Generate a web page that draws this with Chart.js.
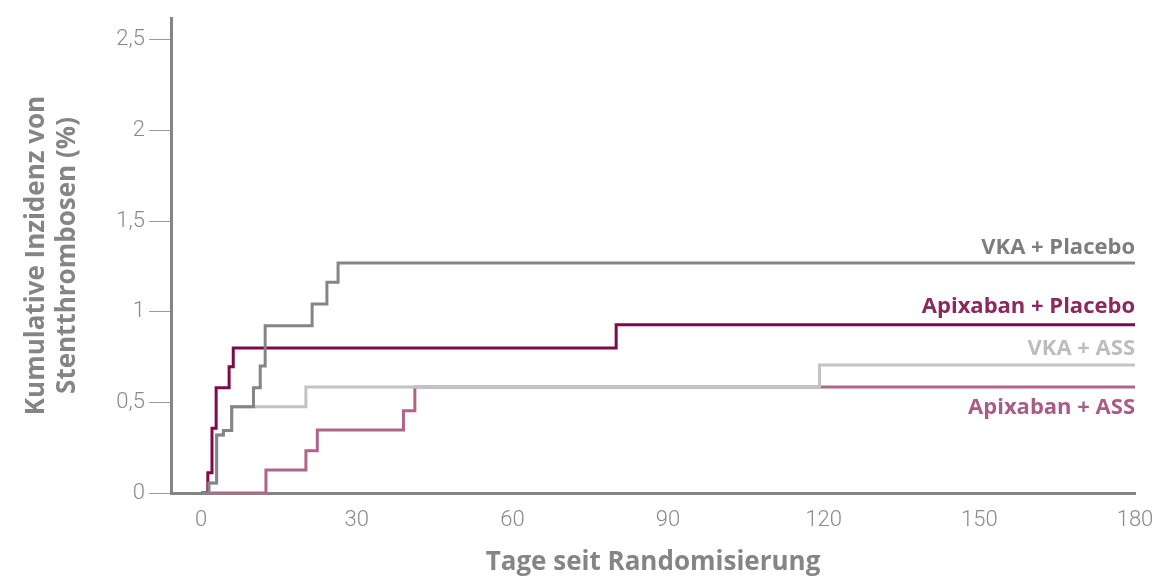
<!DOCTYPE html>
<html lang="de">
<head>
    <meta charset="UTF-8">
    <title>Stentthrombosen</title>
    <script src="https://cdn.jsdelivr.net/npm/chart.js"></script>
    <style>
        body {
            margin: 0;
            padding: 0;
            background-color: #ffffff;
        }
        .wrap {
            position: relative;
            width: 1155px;
            height: 578px;
        }
    </style>
</head>
<body>
    <div class="wrap">
        <canvas id="kmChart"></canvas>
    </div>

    <script>
        // Tick labels
        const xTicks = [0, 30, 60, 90, 120, 150, 180];
        const yTicks = [0, 0.5, 1, 1.5, 2, 2.5];

        // Series names (drawn at the right end of each curve)
        const seriesNames = ['VKA + Placebo', 'Apixaban + Placebo', 'VKA + ASS', 'Apixaban + ASS'];

        // Event times (days) and cumulative incidence (%)
        const vkaPlaceboDays = [0, 1.5, 3.0, 4.3, 5.9, 10.1, 11.4, 12.35, 21.4, 24.25, 26.4, 180];
        const vkaPlaceboVals = [0, 0.055, 0.32, 0.345, 0.476, 0.581, 0.70, 0.923, 1.043, 1.163, 1.268, 1.268];

        const apixPlaceboDays = [0, 1.3, 2.1, 2.9, 5.4, 6.2, 80, 180];
        const apixPlaceboVals = [0, 0.112, 0.357, 0.58, 0.697, 0.80, 0.928, 0.928];

        const vkaAssDays = [0, 1.5, 3.0, 4.3, 5.9, 20.2, 119.2, 180];
        const vkaAssVals = [0, 0.055, 0.32, 0.345, 0.476, 0.585, 0.706, 0.706];

        const apixAssDays = [0, 12.5, 20.2, 22.4, 39.0, 41.2, 180];
        const apixAssVals = [0, 0.127, 0.233, 0.348, 0.454, 0.585, 0.585];

        const colors = ['#858585', '#7e0a4c', '#c3c3c3', '#b0648c'];
        const labelColors = ['#7d7d7d', '#8c2860', '#bdbdbd', '#a95d86'];

        function toPoints(days, vals) {
            return days.map((d, i) => ({ x: d, y: vals[i] }));
        }

        // Right-side curve labels, placed relative to the final value of each curve
        const endLabels = {
            id: 'endLabels',
            afterDatasetsDraw(chart) {
                const ctx = chart.ctx;
                const y = chart.scales.y;
                const right = chart.chartArea.right;
                const offsets = [-15, -18, -16, 21]; // above / below the line
                ctx.save();
                ctx.font = '700 22px "Open Sans", sans-serif';
                ctx.textAlign = 'right';
                ctx.textBaseline = 'middle';
                chart.data.datasets.forEach((ds, i) => {
                    const last = ds.data[ds.data.length - 1].y;
                    ctx.fillStyle = labelColors[i];
                    ctx.fillText(seriesNames[i], right, y.getPixelForValue(last) + offsets[i]);
                });
                ctx.restore();
            }
        };

        const tickFont = { family: 'Roboto', size: 22, weight: '300' };
        const titleFont = { family: '"Open Sans"', size: 26, weight: '700' };

        new Chart(document.getElementById('kmChart'), {
            type: 'line',
            data: {
                datasets: [
                    { label: seriesNames[0], data: toPoints(vkaPlaceboDays, vkaPlaceboVals), borderColor: colors[0], order: 1 },
                    { label: seriesNames[1], data: toPoints(apixPlaceboDays, apixPlaceboVals), borderColor: colors[1], order: 2 },
                    { label: seriesNames[2], data: toPoints(vkaAssDays, vkaAssVals), borderColor: colors[2], order: 3 },
                    { label: seriesNames[3], data: toPoints(apixAssDays, apixAssVals), borderColor: colors[3], order: 4 }
                ]
            },
            options: {
                responsive: true,
                maintainAspectRatio: false,
                animation: false,
                layout: { padding: { top: 18, right: 20, left: 0, bottom: 0 } },
                elements: {
                    line: { borderWidth: 3, stepped: 'before', tension: 0, fill: false },
                    point: { radius: 0 }
                },
                plugins: {
                    legend: { display: false },
                    tooltip: { enabled: false }
                },
                scales: {
                    x: {
                        type: 'linear',
                        min: -5.8,
                        max: 180,
                        afterBuildTicks: (s) => { s.ticks = xTicks.map(v => ({ value: v })); },
                        afterFit: (s) => {
                            s.height = 85;
                            s.paddingLeft = 0;
                            s.paddingRight = 0; // the "180" label may overhang into the right margin
                        },
                        grid: { display: false, drawTicks: false },
                        border: { display: true, color: '#858585', width: 3 },
                        ticks: { color: '#8a8a8a', font: tickFont, padding: 14, maxRotation: 0 },
                        title: {
                            display: true,
                            text: 'Tage seit Randomisierung',
                            color: '#858585',
                            font: titleFont,
                            padding: { top: 2, bottom: 0 }
                        }
                    },
                    y: {
                        min: 0,
                        max: 2.62,
                        afterBuildTicks: (s) => { s.ticks = yTicks.map(v => ({ value: v })); },
                        afterFit: (s) => { s.width = 171; },
                        grid: { drawOnChartArea: false, drawTicks: true, tickLength: 22, tickColor: '#9a9a9a', tickWidth: 1 },
                        border: { display: true, color: '#858585', width: 3 },
                        ticks: {
                            color: '#8a8a8a',
                            font: tickFont,
                            padding: 4,
                            callback: (v) => String(v).replace('.', ',')
                        },
                        title: {
                            display: true,
                            text: ['Kumulative Inzidenz von', 'Stentthrombosen (%)'],
                            color: '#858585',
                            font: titleFont,
                            padding: { top: 21, bottom: 8 }
                        }
                    }
                }
            },
            plugins: [endLabels]
        });
    </script>
</body>
</html>
